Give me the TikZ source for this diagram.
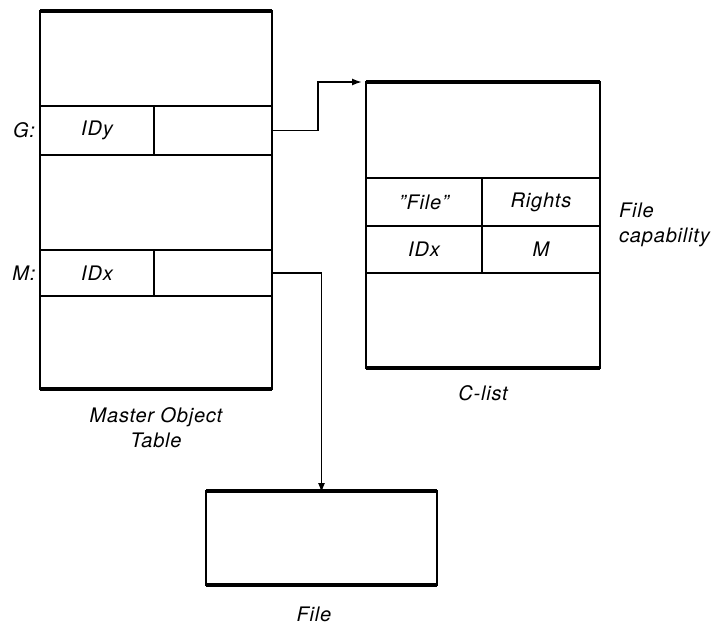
\documentclass[tikz,border=0pt]{standalone}
\usepackage{fontspec}
\setmainfont{TeX Gyre Heros}[LetterSpace=4]
\usetikzlibrary{arrows.meta}
\newcommand{\diafont}{\fontsize{20}{25}\selectfont\itshape}
\begin{document}
\begin{tikzpicture}[x=1pt,y=-1pt,
  thin line/.style={line width=1.6pt},
  boxframe/.style={draw, thin line, inner sep=0pt, outer sep=0pt},
  cell/.style={draw, thin line, inner sep=0pt, outer sep=0pt, font=\diafont},
  heavy/.style={line width=4.5pt},
  lbl/.style={font=\diafont, inner sep=0pt},
  arr/.style={thin line, -{Latex[length=10pt,width=7pt]}}
]
\useasboundingbox[fill=white] (0,0) rectangle (714,625);

% Master Object Table
\node[boxframe, minimum width=232pt, minimum height=378pt] (mot) at (156,200) {};
\node[cell, minimum width=114pt, minimum height=49pt] (gid) at (97,130.5) {IDy};
\node[cell, minimum width=118pt, minimum height=49pt] (gptr) at (213,130.5) {};
\node[cell, minimum width=114pt, minimum height=46pt] (mid) at (97,273) {IDx};
\node[cell, minimum width=118pt, minimum height=46pt] (mptr) at (213,273) {};
\draw[heavy] (mot.north west) -- (mot.north east);
\draw[heavy] (mot.south west) -- (mot.south east);
\node[lbl] (glbl) at (24,130) {G:};
\node[lbl] (mlbl) at (24,273) {M:};
\node[lbl, align=center] (motlbl) at (156,428) {Master Object\\Table};

% C-list
\node[boxframe, minimum width=234pt, minimum height=286pt] (clist) at (483,225) {};
\node[cell, minimum width=116pt, minimum height=48pt] (cfile) at (424,202) {"File"};
\node[cell, minimum width=118pt, minimum height=48pt] (crights) at (541,202) {Rights};
\node[cell, minimum width=116pt, minimum height=47pt] (cidx) at (424,249.5) {IDx};
\node[cell, minimum width=118pt, minimum height=47pt] (cm) at (541,249.5) {M};
\draw[heavy] (clist.north west) -- (clist.north east);
\draw[heavy] (clist.south west) -- (clist.south east);
\node[lbl] (clistlbl) at (483,393) {C-list};
\node[lbl, align=left, anchor=west] (caplbl) at (619,225) {File\\capability};

% File
\node[boxframe, minimum width=231pt, minimum height=94pt] (file) at (321.5,538) {};
\draw[heavy] (file.north west) -- (file.north east);
\draw[heavy] (file.south west) -- (file.south east);
\node[lbl] (filelbl) at (314,614) {File};

% Connectors
\coordinate (gturn) at (318,130.5);
\draw[arr] (gptr.east) -- (gturn) |- ([xshift=-4pt]clist.north west);
\draw[arr] (mptr.east) -| ([yshift=-2pt]file.north);
\end{tikzpicture}
\end{document}
